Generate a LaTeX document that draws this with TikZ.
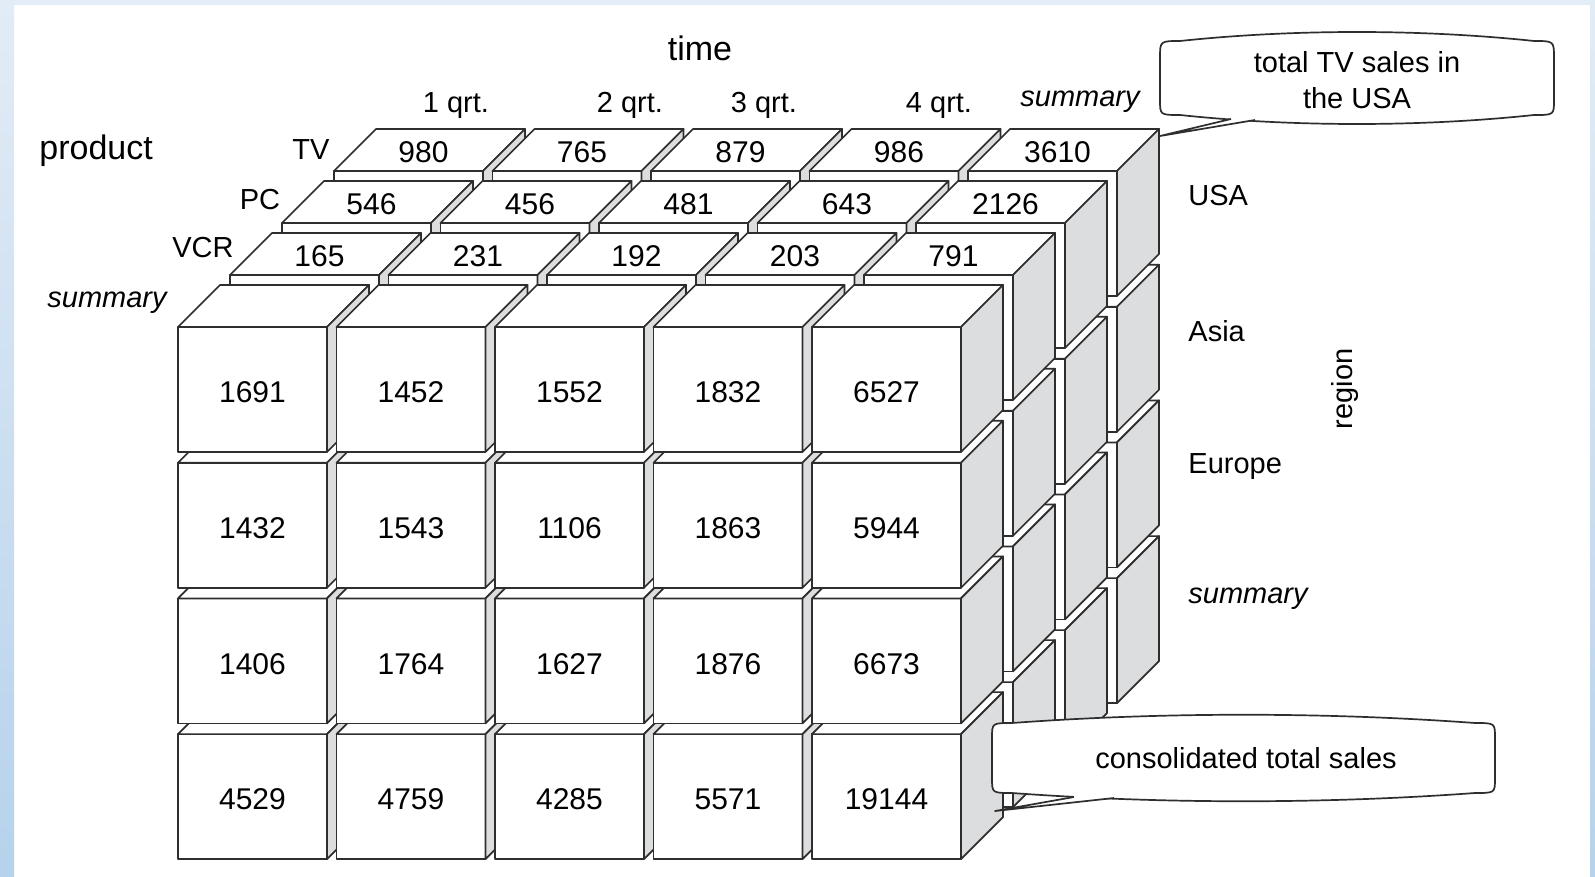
\documentclass[tikz,border=0pt]{standalone}
\usepackage{fontspec}
\setmainfont{Liberation Sans}
\definecolor{cubegray}{HTML}{DCDDDF}
\definecolor{edge}{HTML}{2E2E2E}
\definecolor{bandA}{HTML}{E2ECF6}
\definecolor{bandB}{HTML}{B6D2EC}
\definecolor{bandTop}{HTML}{E3EDF7}
\newcommand{\olapcube}[2]{%
  \filldraw[cubeline, fill=white] (#1,#2) rectangle ++(149,125);
  \filldraw[cubeline, fill=white] (#1,#2) -- ++(42,-42) -- ++(149,0) -- ++(-42,42) -- cycle;
  \filldraw[cubeline, fill=cubegray] (#1+149,#2) -- ++(42,-42) -- ++(0,125) -- ++(-42,42) -- cycle;
}
\begin{document}
\begin{tikzpicture}[x=0.5pt,y=-0.5pt,
  cubeline/.style={draw=edge, line width=0.85pt, line join=round},
  num/.style={font=\fontsize{15}{18}\selectfont, inner sep=0pt},
  lbl/.style={font=\fontsize{14.5}{18}\selectfont, inner sep=0pt},
  big/.style={font=\fontsize{17}{20}\selectfont, inner sep=0pt},
  callout/.style={draw=edge, line width=0.85pt, fill=white, line join=round}]
\useasboundingbox (0,0) rectangle (1595,877);
% background and frame
\fill[white] (0,0) rectangle (1595,877);
\shade[top color=bandA, bottom color=bandB] (0,0) rectangle (14,877);
\shade[top color=bandA, bottom color=bandB] (1590,0) rectangle (1595,877);
\fill[bandTop] (14,0) rectangle (1590,5);
% cubes, back to front
\foreach \k in {3,2,1,0}{
  \foreach \c in {0,1,2,3,4}{
    \foreach \r in {3,2,1,0}{
      \pgfmathsetmacro\X{178+158.5*\c+52*\k}
      \pgfmathsetmacro\Y{327+135.7*\r-52*\k}
      \olapcube{\X}{\Y}
    }
  }
}
% numbers on top faces of back layers
\foreach \vals [count=\k from 1] in {{165,231,192,203,791},{546,456,481,643,2126},{980,765,879,986,3610}}{
  \foreach \v [count=\c from 0] in \vals {
    \pgfmathsetmacro\X{178+158.5*\c+52*\k+89.5}
    \pgfmathsetmacro\Y{327-52*\k-19}
    \node[num] (t-\k-\c) at (\X,\Y) {\v};
  }
}
% numbers on front faces
\foreach \vals [count=\r from 0] in {{1691,1452,1552,1832,6527},{1432,1543,1106,1863,5944},{1406,1764,1627,1876,6673},{4529,4759,4285,5571,19144}}{
  \foreach \v [count=\c from 0] in \vals {
    \pgfmathsetmacro\X{178+158.5*\c+74.5}
    \pgfmathsetmacro\Y{327+135.7*\r+65.5}
    \node[num] (f-\r-\c) at (\X,\Y) {\v};
  }
}
% axis labels
\node[big, anchor=base] (time) at (700,61) {time};
\node[lbl, anchor=base] (q1) at (456,113) {1 qrt.};
\node[lbl, anchor=base] (q2) at (630,113) {2 qrt.};
\node[lbl, anchor=base] (q3) at (764,113) {3 qrt.};
\node[lbl, anchor=base] (q4) at (939,113) {4 qrt.};
\node[lbl, anchor=base] (qs) at (1080,107) {\itshape summary};
\node[big, anchor=base west] (product) at (39,160) {product};
\node[lbl, anchor=base] (tv) at (311,160) {TV};
\node[lbl, anchor=base] (pc) at (260,210) {PC};
\node[lbl, anchor=base] (vcr) at (203,257) {VCR};
\node[lbl, anchor=base] (ps) at (107,307) {\itshape summary};
\node[lbl, anchor=base west] (usa) at (1188,206) {USA};
\node[lbl, anchor=base west] (asia) at (1188,342) {Asia};
\node[lbl, anchor=base west] (europe) at (1188,473) {Europe};
\node[lbl, anchor=base west] (rs) at (1188,603) {\itshape summary};
\node[lbl, rotate=90] (region) at (1345,389) {region};
% callout 1
\path[callout] (1160,100) -- (1160,58) .. controls (1160,41) .. (1180,41)
  .. controls (1293,29) and (1421,29) .. (1534,41) .. controls (1554,41) .. (1554,58)
  -- (1554,100) .. controls (1554,115) .. (1534,115)
  .. controls (1421,127) and (1293,127) .. (1180,115) .. controls (1160,115) .. (1160,100) -- cycle;
\coordinate (tip1) at (1160,136);
\fill[white] (1231,113) -- (1255,113) -- (1255,120) -- (tip1) -- (1231,119) -- cycle;
\draw[cubeline] (1231,119) -- (tip1) -- (1255,120);
\node[lbl, align=center] (c1) at (1357,80) {total TV sales in\\the USA};
% callout 2
\path[callout] (992,778) -- (992,738) .. controls (992,723) .. (1012,723)
  .. controls (1162,712) and (1325,712) .. (1475,723) .. controls (1495,723) .. (1495,738)
  -- (1495,778) .. controls (1495,793) .. (1475,793)
  .. controls (1325,804) and (1162,804) .. (1012,793) .. controls (992,793) .. (992,778) -- cycle;
\coordinate (tip2) at (995,811);
\fill[white] (1074,790) -- (1114,790) -- (1114,798) -- (tip2) -- (1074,797) -- cycle;
\draw[cubeline] (1074,797) -- (tip2) -- (1114,798);
\node[lbl] (c2) at (1246,758) {consolidated total sales};
\end{tikzpicture}
\end{document}
